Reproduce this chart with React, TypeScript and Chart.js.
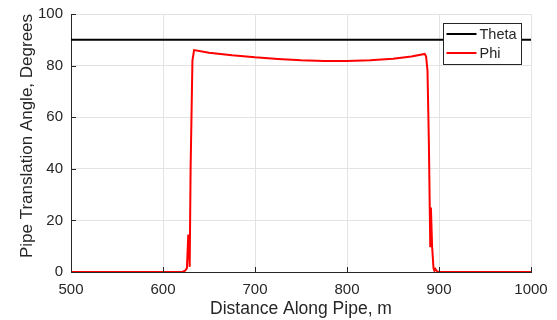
import React, { useEffect, useRef } from "react";
import { Chart, registerables } from "chart.js";

Chart.register(...registerables);

const thetaX = [500, 1000];
const thetaY = [90, 90];

const phiX = [
  500, 621, 624, 626, 627.5, 629, 630, 632, 633.8,
  650, 675, 700, 725, 750, 775, 800, 825, 850, 870, 884.5,
  886, 887.5, 889, 890.5, 891.2, 892.5, 894, 895, 896, 898, 900, 1000,
];
const phiY = [
  0, 0, 0.5, 1.5, 14.5, 2, 40, 82, 86,
  85.0, 84.0, 83.2, 82.6, 82.1, 81.8, 81.8, 82.1, 82.7, 83.5, 84.5,
  83.5, 78, 50, 10, 25, 10, 1.5, 0.5, 1.2, 0.2, 0, 0,
];

const xTicks = [500, 600, 700, 800, 900, 1000];
const yTicks = [0, 20, 40, 60, 80, 100];
const xTitle = "Distance Along Pipe, m";
const yTitle = "Pipe Translation Angle, Degrees";

const FONT = "'Liberation Sans', Arial, Helvetica, sans-serif";
const AXIS = "#262626";

const inwardTicks = {
  id: "inwardTicks",
  afterDraw(chart: any) {
    const { ctx, chartArea } = chart;
    const xs = chart.scales.x;
    const ys = chart.scales.y;
    ctx.save();
    ctx.strokeStyle = AXIS;
    ctx.lineWidth = 1;
    ctx.beginPath();
    xTicks.forEach((v) => {
      const px = Math.round(xs.getPixelForValue(v)) + 0.5;
      ctx.moveTo(px, chartArea.bottom);
      ctx.lineTo(px, chartArea.bottom - 5);
    });
    yTicks.forEach((v) => {
      const py = Math.round(ys.getPixelForValue(v)) + 0.5;
      ctx.moveTo(chartArea.left, py);
      ctx.lineTo(chartArea.left + 5, py);
    });
    ctx.stroke();
    // y axis title
    ctx.fillStyle = AXIS;
    ctx.font = `17px ${FONT}`;
    ctx.textAlign = "center";
    ctx.textBaseline = "alphabetic";
    ctx.translate(32, 136);
    ctx.rotate(-Math.PI / 2);
    ctx.fillText(yTitle, 0, 0);
    ctx.restore();
  },
};

const boxLegend = {
  id: "boxLegend",
  afterDatasetsDraw(chart: any) {
    const { ctx } = chart;
    const x0 = 443.5;
    const y0 = 23.5;
    const w = 78;
    const h = 41;
    ctx.save();
    ctx.fillStyle = "#ffffff";
    ctx.fillRect(x0, y0, w, h);
    ctx.strokeStyle = AXIS;
    ctx.lineWidth = 1;
    ctx.strokeRect(x0, y0, w, h);
    ctx.font = `14.5px ${FONT}`;
    ctx.textBaseline = "middle";
    ctx.fillStyle = AXIS;
    chart.data.datasets.forEach((ds: any, i: number) => {
      const cy = y0 + 10.5 + i * 19;
      ctx.strokeStyle = ds.borderColor;
      ctx.lineWidth = 2;
      ctx.beginPath();
      ctx.moveTo(x0 + 3, cy);
      ctx.lineTo(x0 + 33, cy);
      ctx.stroke();
      ctx.fillText(ds.label, x0 + 36, cy + 1);
    });
    ctx.restore();
  },
};

export default function App() {
  const ref = useRef<HTMLCanvasElement>(null);
  useEffect(() => {
    document.body.style.margin = "0";
    const chart = new Chart(ref.current!, {
      type: "line",
      data: {
        datasets: [
          {
            label: "Theta",
            data: thetaX.map((x, i) => ({ x, y: thetaY[i] })),
            borderColor: "#000000",
            borderWidth: 2,
            pointRadius: 0,
            tension: 0,
          },
          {
            label: "Phi",
            data: phiX.map((x, i) => ({ x, y: phiY[i] })),
            borderColor: "#ff0000",
            borderWidth: 2,
            pointRadius: 0,
            tension: 0,
          },
        ],
      },
      options: {
        animation: false,
        responsive: false,
        devicePixelRatio: 1,
        layout: { padding: { left: 0, top: 14, right: 26, bottom: 0 } },
        plugins: { legend: { display: false }, tooltip: { enabled: false } },
        scales: {
          x: {
            type: "linear",
            min: 500,
            max: 1000,
            afterBuildTicks: (s: any) => {
              s.ticks = xTicks.map((v) => ({ value: v }));
            },
            afterFit: (s: any) => {
              s.height = 48;
              s.paddingLeft = 0;
              s.paddingRight = 0;
            },
            ticks: {
              color: AXIS,
              font: { family: FONT, size: 15 },
              padding: 9,
              maxRotation: 0,
              callback: (v: any) => String(v),
            },
            grid: { color: "#e3e3e3", drawTicks: false },
            border: { display: true, color: AXIS, width: 1 },
            title: {
              display: true,
              text: xTitle,
              color: AXIS,
              font: { family: FONT, size: 17.5 },
              padding: { top: 0, bottom: 0 },
            },
          },
          y: {
            type: "linear",
            min: 0,
            max: 100,
            afterBuildTicks: (s: any) => {
              s.ticks = yTicks.map((v) => ({ value: v }));
            },
            afterFit: (s: any) => {
              s.width = 71;
              s.paddingTop = 0;
              s.paddingBottom = 0;
            },
            ticks: {
              color: AXIS,
              font: { family: FONT, size: 15 },
              padding: 8,
              callback: (v: any) => String(v),
            },
            grid: { color: "#e3e3e3", drawTicks: false },
            border: { display: true, color: AXIS, width: 1 },
          },
        },
      },
      plugins: [inwardTicks, boxLegend],
    });
    return () => chart.destroy();
  }, []);
  return (
    <div style={{ width: 557, height: 320 }}>
      <canvas ref={ref} width={557} height={320} style={{ width: 557, height: 320 }} />
    </div>
  );
}
